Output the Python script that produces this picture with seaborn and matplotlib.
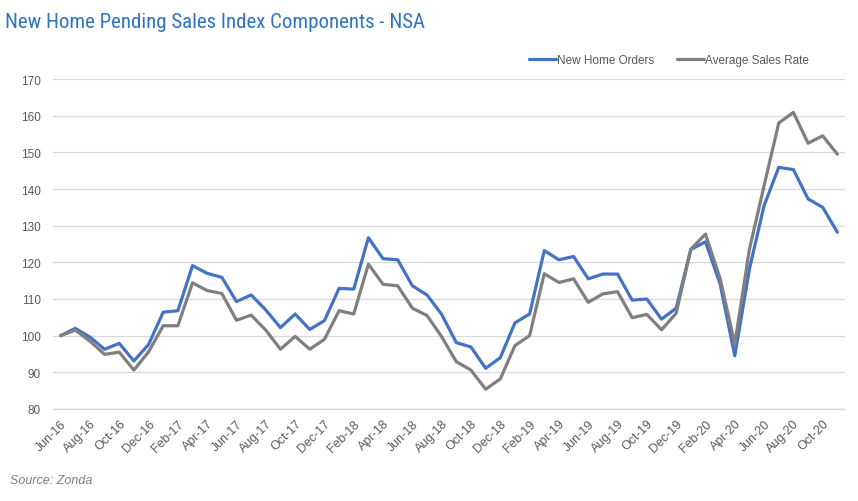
import numpy as np
import pandas as pd
import seaborn as sns
import matplotlib.pyplot as plt

# monthly categories Jun-16 .. Nov-20
months = pd.date_range("2016-06-01", "2020-11-01", freq="MS")
month_labels = [d.strftime("%b-%y") for d in months]

new_home_orders = [
    100.0, 102.0, 99.6, 96.3, 97.9, 93.1, 97.6, 106.4, 106.8, 119.1,
    117.0, 115.9, 109.3, 111.1, 107.0, 102.2, 105.9, 101.7, 104.1, 112.9,
    112.7, 126.7, 121.0, 120.7, 113.6, 111.1, 105.8, 98.1, 96.9, 91.1,
    94.0, 103.5, 105.9, 123.2, 120.7, 121.6, 115.5, 116.8, 116.8, 109.7,
    110.0, 104.5, 107.5, 123.5, 125.6, 114.1, 94.5, 118.2, 135.5, 145.9,
    145.3, 137.3, 135.0, 128.2,
]
average_sales_rate = [
    100.0, 101.5, 98.5, 94.9, 95.5, 90.6, 95.6, 102.7, 102.7, 114.4,
    112.3, 111.5, 104.2, 105.6, 101.5, 96.3, 99.8, 96.3, 99.0, 106.8,
    105.9, 119.5, 114.0, 113.6, 107.5, 105.5, 99.7, 92.9, 90.6, 85.4,
    88.2, 97.3, 100.0, 116.9, 114.5, 115.5, 109.1, 111.4, 112.0, 104.9,
    105.8, 101.6, 106.1, 123.6, 127.7, 115.6, 97.7, 123.6, 140.9, 158.0,
    160.9, 152.5, 154.5, 149.5,
]

series_names = ["New Home Orders", "Average Sales Rate"]
colors = ["#4472C4", "#7F7F7F"]

sns.set_style("white")
plt.rcParams["font.family"] = ["Liberation Sans", "DejaVu Sans"]

fig = plt.figure(figsize=(8.58, 5.02), dpi=100)
ax = fig.add_axes([53.3 / 858, 92 / 502, (844.7 - 53.3) / 858, 330 / 502])

idx = np.arange(len(months))
df = pd.DataFrame({
    "idx": np.concatenate([idx, idx]),
    "value": new_home_orders + average_sales_rate,
    "series": [series_names[0]] * len(idx) + [series_names[1]] * len(idx),
})
sns.lineplot(data=df, x="idx", y="value", hue="series", palette=colors,
             linewidth=2.3, ax=ax, legend=False)

ax.set_xlim(-0.5, len(months) - 0.5)
ax.set_ylim(80, 170)
ax.set_yticks(range(80, 171, 10))
ax.yaxis.grid(True, color="#D9D9D9", linewidth=0.9)
ax.set_axisbelow(True)
for s in ["left", "right", "top"]:
    ax.spines[s].set_visible(False)
ax.spines["bottom"].set_color("#D9D9D9")
ax.spines["bottom"].set_linewidth(1)

# ticks between categories, labels on every other category
ax.set_xticks(np.arange(-0.5, len(months), 2), minor=True)
ax.set_xticks(idx[::2])
ax.set_xticklabels(month_labels[::2], rotation=45, ha="right",
                   rotation_mode="anchor", fontsize=9, color="#595959")
ax.tick_params(axis="x", which="major", length=0, pad=6)
ax.tick_params(axis="x", which="minor", length=4, color="#D9D9D9", width=1)
ax.tick_params(axis="y", length=0, pad=9, labelsize=8.5, labelcolor="#595959")
ax.set_xlabel("")
ax.set_ylabel("")

handles = [plt.Line2D([], [], color=c, linewidth=2.3) for c in colors]
fig.legend(handles, series_names, loc="center", bbox_to_anchor=(669 / 858, 1 - 61 / 502),
           ncol=2, frameon=False, fontsize=8.5, handlelength=2.3, handletextpad=0.1,
           columnspacing=1.9, labelcolor="#595959")

fig.text(5 / 858, 1 - 28 / 502, "New Home Pending Sales Index Components - NSA",
         fontsize=15, color="#2E74C0", va="baseline", ha="left",
         family=["Liberation Sans Narrow", "Roboto Condensed", "Open Sans Condensed",
                 "Liberation Sans", "DejaVu Sans"])
fig.text(10 / 858, 1 - 481 / 502, "Source: Zonda", fontsize=9, style="italic",
         color="#7F7F7F", va="center", ha="left")

plt.savefig("out.png", dpi=100)
